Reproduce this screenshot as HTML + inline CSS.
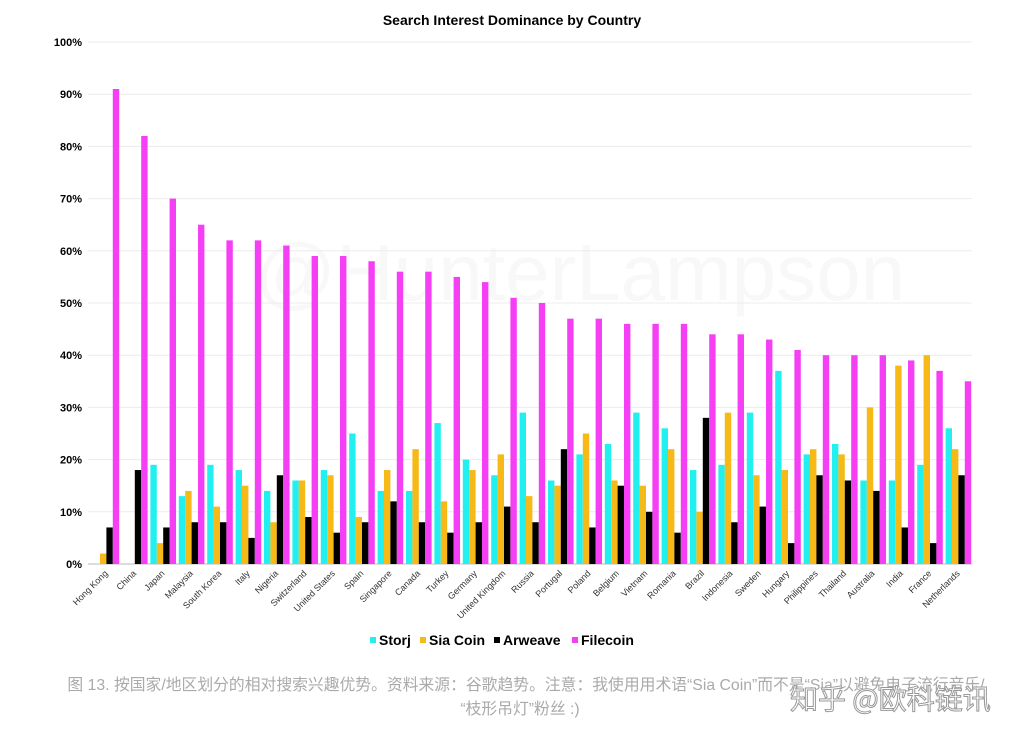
<!DOCTYPE html>
<html><head><meta charset="utf-8">
<style>
body{margin:0;background:#fff;width:1012px;height:739px;overflow:hidden;font-family:"Liberation Sans","Noto Sans CJK SC",sans-serif;}
#wrap{position:relative;width:1012px;height:739px;}
.cap{position:absolute;left:0;width:1052px;text-align:center;color:#aaa;font-size:15.8px;white-space:nowrap;}
.wm{position:absolute;left:790px;top:678px;font-size:28px;color:#fff;-webkit-text-stroke:1px #999;font-family:"Noto Sans CJK SC",sans-serif;}
</style></head>
<body>
<div id="wrap">
<svg id="chart" width="1012" height="660"></svg>
<div class="cap" style="top:672px">图 13. 按国家/地区划分的相对搜索兴趣优势。资料来源：谷歌趋势。注意：我使用用术语“Sia Coin”而不是“Sia”以避免电子流行音乐/</div>
<div class="cap" style="top:696px;width:1040px">“枝形吊灯”粉丝 :)</div>
<div class="wm">知乎 @欧科链讯</div>
</div>
<script>
const countries=["Hong Kong","China","Japan","Malaysia","South Korea","Italy","Nigeria","Switzerland","United States","Spain","Singapore","Canada","Turkey","Germany","United Kingdom","Russia","Portugal","Poland","Belgium","Vietnam","Romania","Brazil","Indonesia","Sweden","Hungary","Philippines","Thailand","Australia","India","France","Netherlands"];
const storj=[0,0,19,13,19,18,14,16,18,25,14,14,27,20,17,29,16,21,23,29,26,18,19,29,37,21,23,16,16,19,26];
const siaCoin=[2,0,4,14,11,15,8,16,17,9,18,22,12,18,21,13,15,25,16,15,22,10,29,17,18,22,21,30,38,40,22];
const arweave=[7,18,7,8,8,5,17,9,6,8,12,8,6,8,11,8,22,7,15,10,6,28,8,11,4,17,16,14,7,4,17];
const filecoin=[91,82,70,65,62,62,61,59,59,58,56,56,55,54,51,50,47,47,46,46,46,44,44,43,41,40,40,40,39,37,35];
const seriesNames=["Storj","Sia Coin","Arweave","Filecoin"];
const yTicks=[0,10,20,30,40,50,60,70,80,90,100];
const colors=["#22f0f0","#f7b917","#000000","#f53ff5"];
const NS="http://www.w3.org/2000/svg";
const svg=document.getElementById('chart');
const L=88,Y0=564,Y100=42;
const y=v=>Y0-(Y0-Y100)*v/100;
const gw=28.4, bw=6.4, x0=93.6;
const x=(i,s)=>x0+i*gw+s*bw;
function mk(t,a){const e=document.createElementNS(NS,t);for(const k in a)e.setAttribute(k,a[k]);svg.appendChild(e);return e;}
const title=mk('text',{x:512,y:25,'text-anchor':'middle','font-size':14,'font-weight':'bold',fill:'#000'});
title.textContent="Search Interest Dominance by Country";


const wmk=mk('text',{x:580,y:300,'text-anchor':'middle','font-size':80,fill:'#f8f8f8'});
wmk.textContent="@HunterLampson";


yTicks.forEach(t=>{
  const g=mk('line',{x1:L,x2:972,y1:y(t),y2:y(t),stroke:t===0?'#bbb':'#ececec','stroke-width':1});
  
  
  const l=mk('text',{x:82,y:y(t)+4,'text-anchor':'end','font-size':11,'font-weight':'bold',fill:'#000'});
  l.textContent=t+'%';
  
  
});
const data=[storj,siaCoin,arweave,filecoin];
countries.forEach((c,i)=>{
  data.forEach((arr,s)=>{
    const v=arr[i];
    const r=mk('rect',{x:x(i,s),y:y(v),width:bw,height:Y0-y(v),fill:colors[s]});
    
    
  });
  const cx=x0+i*gw+2*bw;
  const lab=mk('text',{x:cx+2,y:574,'text-anchor':'end','font-size':9,fill:'#333',transform:`rotate(-45 ${cx+2} 574)`});
  lab.textContent=c;
  
  
});
let lx=370;
const lw=[50,74,78,70];
seriesNames.forEach((n,s)=>{
  const sq=mk('rect',{x:lx,y:637,width:6,height:6,fill:colors[s]});
  
  
  const t=mk('text',{x:lx+9,y:645,'font-size':14,'font-weight':'bold',fill:'#000'});
  t.textContent=n;
  
  
  lx+=lw[s];
});
</script>
</body></html>
